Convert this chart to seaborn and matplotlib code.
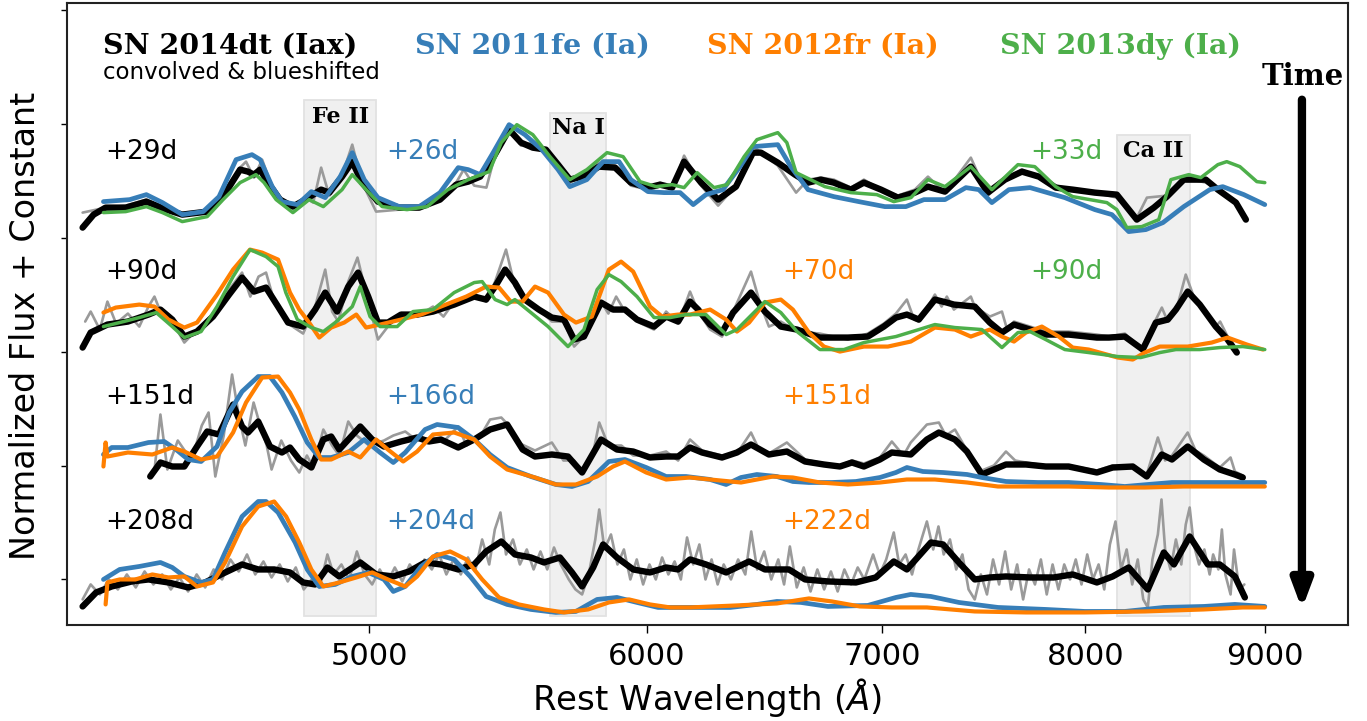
import numpy as np
import matplotlib
matplotlib.use("Agg")
import matplotlib.pyplot as plt
import seaborn as sns
from matplotlib.ticker import FixedLocator, FixedFormatter, NullLocator

# flux values, in counts where 114 counts = spacing between epochs
FLUX_NORM = 114.0
EPOCH_OFFSET = [3, 2, 1, 0]

# ---------------- epoch 1 ----------------
IAX_29_WAVE = [4143, 4173, 4206, 4262, 4320, 4377, 4423, 4496, 4543, 4594, 4618, 4636, 4655, 4679, 4716, 4756,
               4795, 4845, 4871, 4912, 4945, 4977, 5029, 5100, 5167, 5238, 5294, 5336, 5378, 5424, 5481, 5524,
               5567, 5615, 5660, 5704, 5750, 5814, 5876, 5937, 6004, 6052, 6100, 6148, 6217, 6287, 6361, 6432,
               6466, 6538, 6612, 6669, 6725, 6783, 6859, 6918, 6996, 7074, 7153, 7215, 7296, 7421, 7504, 7589,
               7674, 7760, 7846, 7934, 8050, 8167, 8275, 8368, 8440, 8534, 8658, 8727, 8831, 8889]
IAX_29_FLUX = [10, 23, 30, 30, 36, 28, 23, 26, 41, 68, 66, 63, 68, 55, 38, 31,
               38, 48, 45, 61, 76, 55, 36, 30, 30, 38, 53, 56, 61, 80, 108, 95,
               90, 88, 73, 58, 61, 71, 70, 55, 50, 53, 50, 76, 55, 38, 51, 85,
               85, 75, 63, 55, 58, 55, 48, 55, 48, 40, 45, 51, 46, 71, 45, 58,
               66, 61, 50, 48, 45, 43, 18, 30, 41, 58, 58, 48, 35, 18]
RAW_29_WAVE = [4143, 4206, 4262, 4320, 4377, 4423, 4496, 4543, 4594, 4612, 4636, 4661, 4690, 4716, 4756, 4795,
               4820, 4845, 4871, 4912, 4945, 4977, 5023, 5100, 5167, 5238, 5294, 5320, 5357, 5400, 5430, 5481,
               5524, 5567, 5615, 5660, 5704, 5750, 5790, 5814, 5876, 5937, 6004, 6052, 6100, 6148, 6217, 6287,
               6361, 6432, 6466, 6538, 6617, 6669, 6725, 6783, 6859, 6918, 6996, 7074, 7153, 7215, 7296, 7421,
               7504, 7589, 7674, 7760, 7846, 7934, 8050, 8167, 8275, 8330, 8440, 8534, 8658, 8727, 8800, 8831, 8889]
RAW_29_FLUX = [25, 30, 32, 38, 28, 22, 27, 45, 70, 76, 60, 78, 52, 35, 30, 40,
               35, 70, 42, 62, 93, 55, 26, 28, 30, 38, 55, 68, 52, 50, 82, 112,
               92, 95, 88, 70, 55, 62, 72, 75, 72, 52, 48, 55, 48, 82, 52, 32,
               52, 92, 85, 72, 45, 58, 60, 58, 50, 58, 48, 42, 48, 61, 45, 80,
               42, 58, 68, 60, 52, 48, 45, 40, 20, 40, 42, 60, 55, 48, 40, 35, 18]
FE11_26_WAVE = [4200, 4273, 4320, 4366, 4423, 4484, 4531, 4582, 4630, 4655, 4692, 4722, 4770, 4814, 4858, 4906,
                4945, 4984, 5029, 5100, 5167, 5238, 5301, 5336, 5378, 5424, 5481, 5538, 5600, 5660, 5704, 5768,
                5830, 5891, 5937, 6004, 6068, 6132, 6185, 6237, 6307, 6378, 6432, 6538, 6594, 6669, 6783, 6895,
                7014, 7111, 7196, 7296, 7397, 7460, 7524, 7609, 7715, 7893, 8050, 8141, 8231, 8324, 8418, 8534,
                8681, 8755, 8877, 9000]
FE11_26_FLUX = [36, 38, 43, 35, 23, 26, 41, 78, 83, 78, 51, 36, 33, 46, 40, 61,
                85, 58, 40, 31, 31, 45, 70, 68, 63, 85, 113, 103, 88, 68, 51, 58,
                76, 76, 58, 46, 45, 45, 33, 43, 48, 71, 91, 93, 71, 48, 41, 36,
                31, 31, 38, 38, 50, 48, 35, 48, 50, 40, 28, 23, 6, 8, 15, 31,
                48, 51, 43, 33]
DY13_33_WAVE = [4200, 4262, 4320, 4366, 4423, 4496, 4543, 4594, 4642, 4667, 4704, 4756, 4807, 4852, 4912, 4945,
                4990, 5043, 5126, 5194, 5265, 5336, 5410, 5453, 5509, 5567, 5630, 5704, 5768, 5845, 5907, 5973,
                6036, 6100, 6148, 6201, 6270, 6324, 6395, 6449, 6538, 6577, 6617, 6743, 6859, 6977, 7055, 7135,
                7215, 7296, 7421, 7524, 7654, 7739, 7846, 7934, 8114, 8167, 8221, 8302, 8395, 8462, 8562, 8630,
                8727, 8778, 8854, 8953, 9000]
DY13_33_FLUX = [25, 26, 31, 25, 16, 21, 38, 55, 63, 55, 38, 25, 38, 31, 48, 63,
                48, 31, 28, 31, 48, 58, 66, 95, 113, 103, 81, 58, 68, 85, 81, 56,
                51, 53, 50, 65, 50, 53, 81, 98, 105, 95, 65, 51, 45, 43, 36, 40,
                58, 51, 71, 48, 73, 71, 51, 41, 35, 28, 10, 11, 18, 58, 63, 60,
                73, 76, 71, 56, 55]

# ---------------- epoch 2 ----------------
IAX_90_WAVE = [4143, 4165, 4211, 4268, 4326, 4360, 4394, 4429, 4466, 4513, 4561, 4600, 4636, 4673, 4710, 4741,
               4788, 4826, 4858, 4896, 4932, 4964, 4997, 5029, 5062, 5106, 5160, 5214, 5287, 5357, 5399, 5431,
               5467, 5502, 5538, 5589, 5637, 5682, 5720, 5757, 5822, 5868, 5914, 5961, 6028, 6076, 6124, 6172,
               6205, 6254, 6303, 6349, 6424, 6483, 6551, 6621, 6721, 6846, 6936, 7009, 7065, 7116, 7172, 7248,
               7305, 7339, 7440, 7514, 7574, 7634, 7715, 7795, 7913, 8061, 8125, 8210, 8307, 8379, 8445, 8490,
               8556, 8624, 8715, 8783, 8836]
IAX_90_FLUX = [4, 19, 27, 30, 37, 42, 32, 15, 20, 35, 57, 74, 60, 64, 45, 29,
               25, 42, 59, 40, 65, 79, 55, 29, 29, 37, 37, 40, 47, 55, 52, 65,
               82, 69, 52, 42, 34, 32, 12, 15, 49, 42, 42, 32, 25, 35, 30, 50,
               42, 27, 19, 39, 59, 40, 25, 22, 14, 14, 15, 25, 34, 37, 32, 52,
               49, 47, 45, 29, 19, 27, 22, 17, 17, 14, 14, 15, 2, 29, 32, 42,
               60, 47, 25, 12, -1]
RAW_90_WAVE = [4150, 4165, 4190, 4211, 4235, 4268, 4300, 4326, 4343, 4360, 4394, 4429, 4466, 4513, 4561, 4600,
               4625, 4650, 4673, 4700, 4741, 4788, 4826, 4858, 4880, 4900, 4932, 4962, 4997, 5029, 5062, 5106,
               5160, 5214, 5250, 5287, 5357, 5399, 5431, 5470, 5502, 5538, 5589, 5637, 5682, 5720, 5757, 5822,
               5850, 5880, 5914, 5961, 6028, 6076, 6124, 6172, 6205, 6254, 6303, 6349, 6424, 6460, 6500, 6551,
               6621, 6721, 6846, 6936, 7009, 7065, 7116, 7150, 7172, 7248, 7280, 7305, 7339, 7421, 7440, 7514,
               7574, 7600, 7634, 7715, 7795, 7913, 8061, 8125, 8210, 8307, 8379, 8412, 8445, 8490, 8545, 8600,
               8624, 8715, 8740, 8783, 8836]
RAW_90_FLUX = [30, 40, 22, 50, 28, 38, 25, 45, 55, 40, 30, 9, 22, 38, 62, 79,
               55, 75, 79, 48, 28, 18, 45, 82, 40, 30, 70, 94, 50, 12, 25, 38,
               35, 45, 35, 50, 58, 50, 70, 102, 65, 50, 42, 30, 30, 5, 15, 50,
               38, 55, 40, 30, 22, 40, 28, 60, 40, 22, 15, 40, 80, 50, 25, 30,
               20, 18, 12, 18, 28, 38, 52, 32, 30, 57, 45, 55, 42, 55, 45, 35,
               40, 22, 30, 25, 20, 20, 17, 15, 18, 2, 32, 44, 30, 40, 77, 50,
               48, 25, 30, 15, 2]
FR12_70_WAVE = [4200, 4234, 4300, 4343, 4383, 4429, 4466, 4525, 4573, 4624, 4661, 4710, 4747, 4776, 4807, 4839,
                4877, 4919, 4958, 4990, 5036, 5106, 5173, 5241, 5329, 5399, 5445, 5487, 5530, 5575, 5623, 5682,
                5727, 5787, 5852, 5899, 5946, 6012, 6060, 6124, 6172, 6254, 6320, 6365, 6416, 6483, 6551, 6603,
                6673, 6739, 6810, 6918, 7028, 7134, 7248, 7344, 7421, 7514, 7574, 7634, 7694, 7775, 7862, 7934,
                8018, 8172, 8253, 8318, 8401, 8556, 8692, 8783, 8895, 8989]
FR12_70_FLUX = [39, 44, 47, 45, 32, 24, 29, 57, 82, 102, 99, 92, 59, 42, 29, 14,
                24, 29, 37, 24, 27, 32, 37, 45, 55, 65, 64, 50, 50, 65, 59, 37,
                29, 35, 82, 90, 80, 45, 35, 37, 37, 42, 32, 20, 29, 49, 52, 42,
                19, 5, 0, 5, 5, 10, 24, 22, 15, 22, 15, 10, 19, 25, 15, 4,
                2, -6, -8, -1, 5, 5, 9, 14, 7, 2]
DY13_90_WAVE = [4200, 4256, 4300, 4348, 4394, 4429, 4478, 4525, 4573, 4624, 4673, 4710, 4734, 4770, 4814, 4852,
                4890, 4945, 4971, 5003, 5036, 5093, 5146, 5214, 5287, 5357, 5385, 5431, 5474, 5502, 5560, 5623,
                5697, 5757, 5807, 5852, 5899, 5961, 6028, 6092, 6156, 6237, 6320, 6365, 6483, 6551, 6621, 6721,
                6828, 6918, 7065, 7172, 7248, 7344, 7475, 7574, 7654, 7715, 7795, 7893, 8018, 8172, 8296, 8401,
                8490, 8624, 8738, 8871, 9000]
DY13_90_FLUX = [25, 30, 34, 39, 25, 14, 20, 45, 75, 102, 95, 85, 59, 32, 24, 20,
                29, 45, 65, 35, 25, 25, 40, 42, 59, 69, 70, 52, 47, 52, 39, 25,
                5, 22, 62, 77, 70, 55, 34, 34, 37, 37, 17, 22, 50, 39, 20, 2,
                2, 9, 15, 22, 27, 24, 22, 4, 19, 20, 12, 2, -1, -5, -6, -1,
                2, 2, 4, 5, 2]

# ---------------- epoch 3 ----------------
IAX_151_WAVE = [4331, 4360, 4394, 4429, 4466, 4496, 4531, 4573, 4600, 4618, 4649, 4685, 4722, 4747, 4776, 4814,
                4852, 4877, 4903, 4971, 5010, 5049, 5106, 5160, 5200, 5241, 5301, 5357, 5413, 5474, 5530, 5575,
                5637, 5697, 5750, 5822, 5883, 5946, 6012, 6076, 6124, 6172, 6221, 6303, 6365, 6424, 6500, 6577,
                6656, 6739, 6810, 6864, 6918, 6991, 7046, 7134, 7210, 7267, 7344, 7402, 7475, 7534, 7594, 7694,
                7795, 7913, 8061, 8145, 8253, 8329, 8412, 8468, 8556, 8647, 8738, 8825, 8871]
IAX_151_FLUX = [-11, 3, -1, -1, 19, 34, 31, 61, 39, 33, 44, 19, 13, 18, 6, -2,
                26, 29, 16, 39, 26, 19, 24, 28, 24, 26, 18, 26, 36, 41, 16, 9,
                11, 9, -7, 26, 16, 14, 8, 9, 9, 18, 13, 8, 13, 21, 11, 14,
                4, 1, -1, 3, -1, 6, 13, 11, 26, 33, 26, 14, -9, -4, 1, 1,
                -1, -1, -7, -2, -1, -11, 11, 6, 19, 6, -4, -9, -12]
RAW_151_WAVE = [4343, 4360, 4380, 4410, 4450, 4480, 4500, 4520, 4545, 4570, 4590, 4610, 4635, 4655, 4675, 4690,
                4720, 4750, 4776, 4800, 4820, 4852, 4880, 4903, 4932, 4960, 5000, 5049, 5080, 5120, 5160, 5214,
                5250, 5301, 5330, 5380, 5413, 5453, 5480, 5520, 5575, 5637, 5680, 5720, 5750, 5790, 5815, 5850,
                5900, 5946, 6012, 6076, 6124, 6172, 6221, 6303, 6365, 6424, 6460, 6500, 6577, 6656, 6739, 6810,
                6864, 6918, 6991, 7046, 7100, 7134, 7210, 7267, 7300, 7344, 7402, 7475, 7534, 7594, 7640, 7694,
                7795, 7913, 8061, 8145, 8253, 8329, 8390, 8430, 8468, 8556, 8600, 8647, 8738, 8800, 8825, 8871]
RAW_151_FLUX = [-5, 51, -4, 25, 5, 40, 53, -11, 30, 91, 50, 20, 63, 40, 20, -4,
                25, 5, -7, 10, -2, 36, 20, 10, 44, 30, 20, 25, 30, 34, 25, 28,
                24, 39, 20, 30, 46, 48, 40, 22, 15, 23, 5, 5, -7, 10, 43, 20,
                20, 10, 10, 14, 5, 26, 15, 10, 12, 33, 15, 12, 23, 6, 2, 0,
                5, 2, 8, 24, 10, 23, 41, 43, 30, 36, 15, -5, 0, 14, 5, 3,
                0, 0, -5, 0, -3, -9, 28, 5, 10, 33, 15, 10, -2, 8, -6, -10]
FE11_166_WAVE = [4200, 4223, 4268, 4326, 4371, 4405, 4440, 4478, 4525, 4561, 4600, 4649, 4685, 4722, 4762, 4801,
                 4839, 4877, 4932, 4984, 5036, 5080, 5120, 5187, 5228, 5301, 5357, 5413, 5474, 5560, 5652, 5712,
                 5773, 5852, 5914, 5997, 6076, 6156, 6254, 6320, 6382, 6449, 6534, 6603, 6673, 6774, 6882, 6991,
                 7065, 7116, 7191, 7287, 7403, 7475, 7594, 7755, 7913, 8082, 8210, 8335, 8468, 8602, 8738, 8871,
                 9000]
FE11_166_FLUX = [11, 18, 18, 23, 24, 16, 6, 4, 19, 53, 74, 89, 89, 73, 49, 23,
                 8, 8, 13, 26, 13, 3, 13, 36, 41, 38, 26, 11, -2, -11, -19, -21,
                 -16, 4, 6, -2, -11, -11, -14, -19, -12, -9, -11, -16, -17, -17, -16, -12,
                 -7, -2, -6, -7, -9, -12, -16, -17, -17, -19, -21, -19, -17, -17, -17, -17,
                 -17]
FR12_151_WAVE = [4200, 4206, 4211, 4268, 4337, 4394, 4429, 4478, 4525, 4573, 4612, 4661, 4710, 4747, 4776, 4814,
                 4845, 4877, 4932, 4971, 5023, 5062, 5113, 5160, 5214, 5287, 5357, 5413, 5474, 5575, 5652, 5727,
                 5807, 5868, 5914, 5997, 6076, 6172, 6254, 6382, 6517, 6603, 6721, 6846, 6991, 7116, 7248, 7403,
                 7554, 7715, 7913, 8125, 8318, 8534, 8761, 9000]
FR12_151_FLUX = [-1, 23, 9, 13, 11, 18, 14, 6, 9, 33, 63, 88, 89, 73, 56, 26,
                 6, 6, 14, 8, 26, 16, 4, 14, 31, 33, 26, 9, -4, -12, -19, -19,
                 -11, -1, 4, -7, -14, -12, -14, -17, -11, -12, -17, -19, -17, -14, -14, -17,
                 -21, -21, -21, -22, -22, -21, -21, -21]

# ---------------- epoch 4 ----------------
IAX_208_WAVE = [4143, 4180, 4223, 4279, 4326, 4383, 4440, 4490, 4537, 4600, 4649, 4698, 4747, 4788, 4826, 4865,
                4903, 4971, 5023, 5080, 5133, 5187, 5241, 5301, 5357, 5399, 5453, 5502, 5560, 5608, 5667, 5712,
                5750, 5792, 5830, 5883, 5946, 6012, 6076, 6124, 6172, 6237, 6320, 6416, 6483, 6586, 6656, 6757,
                6882, 6972, 7055, 7116, 7229, 7287, 7363, 7440, 7514, 7594, 7715, 7836, 7934, 8061, 8145, 8231,
                8335, 8423, 8479, 8567, 8670, 8738, 8825, 8883]
IAX_208_FLUX = [-27, -13, -7, -2, 0, -3, -8, -3, 5, 15, 10, 10, 7, -3, -5, 12,
                3, 17, 5, 3, 8, 17, 15, 10, 15, 28, 38, 25, 22, 17, 22, 7,
                -7, 12, 35, 22, 10, 7, 12, 10, 20, 15, 7, 18, 10, 10, 0, -2,
                -3, 2, 18, 10, 37, 35, 17, 0, 2, 3, 2, 2, 5, -3, 3, 12,
                -10, 27, 15, 43, 15, 15, 3, -18]
RAW_208_WAVE = [4143, 4165, 4190, 4215, 4240, 4265, 4290, 4315, 4340, 4365,
                4390, 4415, 4440, 4465, 4490, 4515, 4540, 4565, 4590, 4615,
                4640, 4665, 4690, 4715, 4740, 4765, 4790, 4815, 4840, 4865,
                4885, 4910, 4935, 4960, 4985, 5010, 5035, 5060, 5085, 5110,
                5135, 5160, 5185, 5210, 5235, 5260, 5285, 5310, 5335, 5360,
                5385, 5410, 5430, 5450, 5470, 5495, 5520, 5545, 5570, 5595,
                5620, 5645, 5670, 5700, 5725, 5750, 5775, 5800, 5815, 5835,
                5860, 5885, 5910, 5935, 5960, 5985, 6010, 6035, 6060, 6085,
                6110, 6135, 6160, 6185, 6210, 6235, 6260, 6285, 6310, 6340,
                6370, 6400, 6425, 6450, 6480, 6510, 6540, 6565, 6590, 6620,
                6650, 6680, 6710, 6740, 6770, 6800, 6830, 6860, 6890, 6920,
                6960, 6990, 7020, 7055, 7080, 7110, 7140, 7170, 7210, 7240,
                7265, 7290, 7320, 7350, 7380, 7410, 7440, 7470, 7500, 7530,
                7560, 7590, 7620, 7650, 7680, 7710, 7740, 7770, 7800, 7830,
                7860, 7890, 7920, 7950, 7980, 8010, 8040, 8070, 8100, 8130,
                8160, 8190, 8220, 8250, 8280, 8310, 8335, 8360, 8390, 8410,
                8430, 8460, 8490, 8520, 8545, 8567, 8590, 8620, 8650, 8680,
                8700, 8730, 8750, 8770, 8800, 8820, 8850, 8880]
RAW_208_FLUX = [-20, -5, -15, 0, -10, 5, -8, 8, -5, 5,
                -10, 2, -12, 5, -8, 10, 0, 20, 8, 25,
                5, 18, 2, 15, -2, 12, -10, 0, -8, 25,
                5, 15, 0, 28, 5, -5, 10, -3, 12, -2,
                15, 5, 20, 10, 25, 5, 20, 5, 22, 8,
                40, 15, 50, 67, 25, 40, 15, 30, 10, 28,
                10, 32, 15, 0, -10, -15, 5, 40, 70, 30,
                45, 15, 30, 0, 20, -5, 15, 0, 22, 5,
                18, 0, 42, 15, 35, 0, 20, -5, 15, 0,
                20, 5, 48, 10, 28, 0, 20, -5, 33, -8,
                12, -12, 10, -10, 8, -12, 10, -5, 12, 0,
                25, 5, 20, 47, 15, 25, 5, 30, 58, 30,
                53, 25, 40, 10, 25, -10, -20, 5, -15, 20,
                -5, 28, -10, 15, -20, 10, -5, 20, -15, 15,
                -10, 15, 0, 20, -5, 25, 0, 15, -10, 35,
                58, 10, 30, -5, 20, -20, -28, 20, 45, 80,
                30, 10, 40, 15, 55, 72, 35, 15, 30, 5,
                25, 10, 50, 5, -15, 30, -10, -5]
FE11_204_WAVE = [4200, 4245, 4300, 4360, 4394, 4429, 4478, 4513, 4549, 4600, 4649, 4673, 4710, 4763, 4801, 4839,
                 4890, 4945, 4997, 5049, 5080, 5120, 5173, 5228, 5287, 5343, 5399, 5474, 5560, 5652, 5727, 5807,
                 5883, 5961, 6044, 6124, 6225, 6337, 6449, 6534, 6638, 6757, 6936, 7065, 7134, 7229, 7363, 7554,
                 7795, 7997, 8210, 8423, 8647, 8825, 9000]
FE11_204_FLUX = [0, 10, 13, 17, 12, 3, -3, 0, 27, 63, 78, 78, 67, 37, 10, -7,
                 -5, 3, 7, 0, -12, -7, 13, 25, 20, 3, -17, -25, -30, -33, -32, -20,
                 -18, -23, -28, -28, -28, -28, -25, -22, -23, -27, -26, -18, -15, -17, -23, -28,
                 -30, -32, -32, -28, -27, -25, -27]
FR12_222_WAVE = [4206, 4211, 4245, 4289, 4337, 4383, 4429, 4466, 4513, 4549, 4600, 4649, 4698, 4735, 4776, 4814,
                 4852, 4903, 4958, 5010, 5062, 5120, 5160, 5214, 5273, 5329, 5385, 5445, 5516, 5608, 5682, 5773,
                 5852, 5930, 6012, 6092, 6172, 6365, 6534, 6673, 6774, 6900, 7046, 7210, 7440, 7694, 7997, 8318,
                 8647, 8871, 9000]
FR12_222_FLUX = [-25, -3, 0, 0, 5, 2, 3, -7, -3, 17, 53, 73, 78, 63, 37, 10,
                 -7, -3, 2, 7, 0, -7, 3, 23, 28, 20, 0, -18, -25, -30, -33, -30,
                 -23, -20, -25, -28, -28, -26, -24, -19, -22, -27, -28, -28, -32, -33, -33, -32,
                 -30, -28, -28]

# labels per epoch
IAX_LABELS = ["+29d", "+90d", "+151d", "+208d"]
FE11_LABELS = ["+26d", None, "+166d", "+204d"]
FR12_LABELS = [None, "+70d", "+151d", "+222d"]
DY13_LABELS = ["+33d", "+90d", None, None]

# line-identification regions (Angstrom)
REGIONS = [("Fe II", 4792, 5023), ("Na I", 5630, 5841), ("Ca II", 8167, 8567)]
X_TICKS = [5000, 6000, 7000, 8000, 9000]

# (wave, flux, epoch, kind)
SERIES = [
    (RAW_29_WAVE, RAW_29_FLUX, 0, "raw"), (IAX_29_WAVE, IAX_29_FLUX, 0, "iax"),
    (FE11_26_WAVE, FE11_26_FLUX, 0, "11fe"), (DY13_33_WAVE, DY13_33_FLUX, 0, "13dy"),
    (RAW_90_WAVE, RAW_90_FLUX, 1, "raw"), (IAX_90_WAVE, IAX_90_FLUX, 1, "iax"),
    (FR12_70_WAVE, FR12_70_FLUX, 1, "12fr"), (DY13_90_WAVE, DY13_90_FLUX, 1, "13dy"),
    (RAW_151_WAVE, RAW_151_FLUX, 2, "raw"), (IAX_151_WAVE, IAX_151_FLUX, 2, "iax"),
    (FE11_166_WAVE, FE11_166_FLUX, 2, "11fe"), (FR12_151_WAVE, FR12_151_FLUX, 2, "12fr"),
    (RAW_208_WAVE, RAW_208_FLUX, 3, "raw"), (IAX_208_WAVE, IAX_208_FLUX, 3, "iax"),
    (FE11_204_WAVE, FE11_204_FLUX, 3, "11fe"), (FR12_222_WAVE, FR12_222_FLUX, 3, "12fr"),
]

BLUE, ORANGE, GREEN = "#377eb8", "#ff7f00", "#4daf4a"
STYLE = {
    "raw": dict(color="#9a9a9a", lw=1.9, z=2),
    "iax": dict(color="black", lw=4.6, z=3),
    "11fe": dict(color=BLUE, lw=3.4, z=4),
    "12fr": dict(color=ORANGE, lw=3.0, z=5),
    "13dy": dict(color=GREEN, lw=2.5, z=6),
}

sns.set_theme(style="ticks")
plt.rcParams["font.family"] = ["DejaVu Sans"]
plt.rcParams["mathtext.fontset"] = "dejavusans"
for key in ["text.color", "axes.labelcolor", "xtick.color", "ytick.color", "axes.edgecolor"]:
    plt.rcParams[key] = "black"

fig = plt.figure(figsize=(13.67, 7.21), dpi=100)
ax = fig.add_axes([0.0488, 0.1331, 0.9373, 0.8634])

for wave, flux, ep, kind in SERIES:
    st = STYLE[kind]
    y = np.asarray(flux, dtype=float) / FLUX_NORM + EPOCH_OFFSET[ep]
    sns.lineplot(x=np.asarray(wave, dtype=float), y=y, ax=ax, sort=False, estimator=None,
                 color=st["color"], linewidth=st["lw"], zorder=st["z"], legend=False,
                 solid_capstyle="round", solid_joinstyle="round")

ax.set_xscale("log")
ax.set_xlim(4100, 9505)
ax.set_ylim(-0.40, 5.063)

# shaded line regions
region_top = [0.843, 0.822, 0.787]
label_y = [4.06, 3.965, 3.763]
for (name, lo, hi), top, ly in zip(REGIONS, region_top, label_y):
    ax.axvspan(lo, hi, ymin=0.0145, ymax=top, facecolor="#f0f0f0", edgecolor="#e2e2e2", lw=1.3, zorder=0)
    ax.text(np.sqrt(lo * hi), ly, name, ha="center", va="center", family="DejaVu Serif",
            fontweight="bold", fontsize=16, zorder=7)

# epoch labels
label_dy = [0.754, 0.702, 0.605, 0.5]
for labels, xpos, col in [(IAX_LABELS, 4206, "black"), (FE11_LABELS, 5058, BLUE),
                          (FR12_LABELS, 6556, ORANGE), (DY13_LABELS, 7715, GREEN)]:
    for ep, lab in enumerate(labels):
        if lab:
            ax.text(xpos, EPOCH_OFFSET[ep] + label_dy[ep], lab, color=col, fontsize=19,
                    ha="left", va="center", zorder=7)

# header
ax.text(0.0283, 0.930, "SN 2014dt (Iax)", transform=ax.transAxes, family="DejaVu Serif",
        fontweight="bold", fontsize=20.5, ha="left", va="center")
ax.text(0.0283, 0.888, "convolved & blueshifted", transform=ax.transAxes, fontsize=16.5,
        ha="left", va="center")
for xf, name, col in [(0.272, "SN 2011fe (Ia)", BLUE), (0.500, "SN 2012fr (Ia)", ORANGE),
                      (0.7285, "SN 2013dy (Ia)", GREEN)]:
    ax.text(xf, 0.930, name, transform=ax.transAxes, family="DejaVu Serif", fontweight="bold",
            fontsize=20.5, color=col, ha="left", va="center")

# time arrow
ax.text(9228, 4.41, "Time", family="DejaVu Serif", fontweight="bold", fontsize=21,
        ha="center", va="center")
ax.annotate("", xy=(9222, -0.26), xytext=(9222, 4.21),
            arrowprops=dict(arrowstyle="-|>,head_length=0.8,head_width=0.3", lw=6, color="black",
                            mutation_scale=20, shrinkA=0, shrinkB=0))

# axes styling
ax.xaxis.set_major_locator(FixedLocator(X_TICKS))
ax.xaxis.set_major_formatter(FixedFormatter([str(t) for t in X_TICKS]))
ax.xaxis.set_minor_locator(NullLocator())
ax.set_yticks(range(6))
ax.set_yticklabels([])
ax.tick_params(axis="x", length=6, width=1, labelsize=22, pad=6, direction="out")
ax.tick_params(axis="y", length=4, width=1, direction="out")
for sp in ax.spines.values():
    sp.set_linewidth(1.5)
    sp.set_color("#222222")
ax.set_xlabel(r"Rest Wavelength ($\AA$)", fontsize=24.5, labelpad=4)
ax.set_ylabel("Normalized Flux + Constant", fontsize=24)
ax.yaxis.set_label_coords(-0.019, 0.48)

fig.savefig("out.png", dpi=100)
